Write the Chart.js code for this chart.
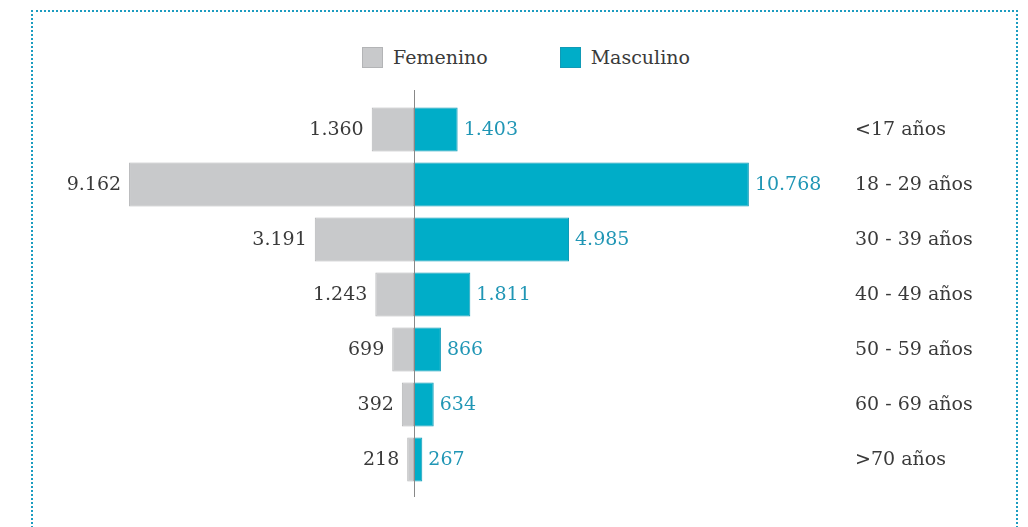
<!DOCTYPE html>
<html>
<head>
<meta charset="utf-8">
<script src="https://cdn.jsdelivr.net/npm/chart.js@4"></script>
<style>
  html, body { margin: 0; padding: 0; background: #fff; }
  #wrap { position: relative; width: 1028px; height: 527px; overflow: hidden; }
  #frame {
    position: absolute; left: 31px; top: 10px; width: 983px; height: 600px;
    border: 2px dotted #1c9cc0; border-bottom: none;
  }
  #legend {
    position: absolute; top: 46px; left: 362px; display: flex; align-items: center;
    font-family: "DejaVu Serif", serif; font-size: 19px; color: #3a3a3a;
  }
  .item { display: flex; align-items: center; }
  .box { width: 19px; height: 19px; margin-right: 10px; border: 1px solid; }
  #chart { position: absolute; left: 0; top: 0; }
</style>
</head>
<body>
<div id="wrap">
  <div id="frame"></div>
  <div id="legend">
    <div class="item"><span class="box" style="background:#c8c9cb;border-color:#b3b4b6"></span>Femenino</div>
    <div class="item" style="margin-left:72px"><span class="box" style="background:#00adc8;border-color:#119ab6"></span>Masculino</div>
  </div>
  <canvas id="chart" width="1028" height="527"></canvas>
</div>
<script>
const categories = ["<17 años", "18 - 29 años", "30 - 39 años", "40 - 49 años", "50 - 59 años", "60 - 69 años", ">70 años"];
const femenino = [1360, 9162, 3191, 1243, 699, 392, 218];
const masculino = [1403, 10768, 4985, 1811, 866, 634, 267];

function fmt(v) {
  return Math.abs(v).toString().replace(/\B(?=(\d{3})+(?!\d))/g, ".");
}

document.addEventListener("DOMContentLoaded", function () {
  initPyramid();
});

function initPyramid() {
  const ctx = document.getElementById("chart");

  const labelsPlugin = {
    id: "pyramidLabels",
    afterDatasetsDraw(chart) {
      const c = chart.ctx;
      const xs = chart.scales.x;
      c.save();
      c.font = '19px "DejaVu Serif", serif';
      c.textBaseline = "middle";

      chart.getDatasetMeta(0).data.forEach((bar, i) => {
        c.fillStyle = "#3a3a3a";
        c.textAlign = "right";
        c.fillText(fmt(femenino[i]), bar.x - 8, bar.y + 1);
      });
      chart.getDatasetMeta(1).data.forEach((bar, i) => {
        c.fillStyle = "#2096b5";
        c.textAlign = "left";
        c.fillText(fmt(masculino[i]), bar.x + 6, bar.y + 1);
        c.fillStyle = "#3a3a3a";
        c.fillText(categories[i], 855, bar.y + 1);
      });

      // center axis line
      const x0 = Math.round(xs.getPixelForValue(0)) + 0.5;
      c.strokeStyle = "#888";
      c.lineWidth = 1;
      c.beginPath();
      c.moveTo(x0, 90);
      c.lineTo(x0, 497);
      c.stroke();
      c.restore();
    },
  };

  new Chart(ctx, {
    type: "bar",
    data: {
      labels: categories,
      datasets: [
        {
          label: "Femenino",
          data: femenino.map((v) => -v),
          backgroundColor: "#c8c9cb",
          borderColor: "#b3b4b6",
          borderWidth: 1,
          borderSkipped: false,
        },
        {
          label: "Masculino",
          data: masculino,
          backgroundColor: "#00adc8",
          borderColor: "#119ab6",
          borderWidth: 1,
          borderSkipped: false,
        },
      ],
    },
    options: {
      indexAxis: "y",
      responsive: false,
      animation: false,
      categoryPercentage: 0.8,
      barPercentage: 1,
      layout: {
        padding: { top: 102, bottom: 40, left: 40, right: 14 },
      },
      plugins: {
        legend: { display: false },
        tooltip: {
          callbacks: {
            label: function (context) {
              return context.dataset.label + ": " + fmt(context.raw);
            },
          },
        },
      },
      scales: {
        x: {
          display: false,
          stacked: true,
          min: -12026,
          max: 19293,
        },
        y: {
          display: false,
          stacked: true,
        },
      },
    },
    plugins: [labelsPlugin],
  });
}
</script>
</body>
</html>
